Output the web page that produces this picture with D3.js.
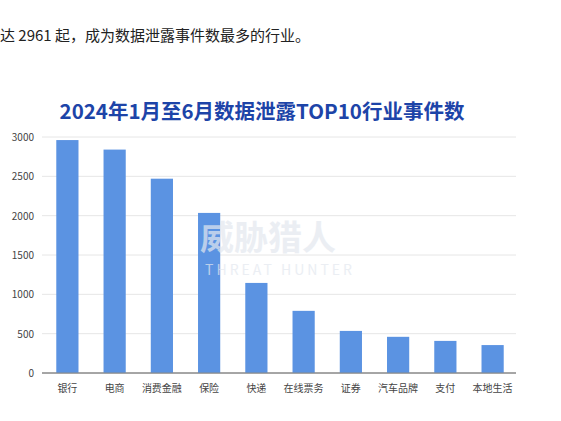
<!DOCTYPE html><html><head><meta charset="utf-8"><script src="https://cdn.jsdelivr.net/npm/d3@7"></script>
<style>body{margin:0;background:#fff}</style></head><body><svg id="c" width="561" height="421"></svg>
<script>
const categories=["银行","电商","消费金融","保险","快递","在线票务","证券","汽车品牌","支付","本地生活"];
const values=[2961,2840,2470,2035,1145,790,535,460,408,355];
const yTicks=[0,500,1000,1500,2000,2500,3000];
const svg=d3.select("#c");
const F="'Noto Sans CJK SC',sans-serif";
svg.append("text").attr("x",0).attr("y",41).attr("font-family",F).attr("font-size",15).attr("fill","#222").text("达 2961 起，成为数据泄露事件数最多的行业。");
svg.append("text").attr("x",262).attr("y",119).attr("text-anchor","middle").attr("font-family",F).attr("font-weight","bold").attr("font-size",20.5).attr("fill","#1d44a8").text("2024年1月至6月数据泄露TOP10行业事件数");
const x=d3.scaleBand().domain(categories).range([44,516]).paddingInner(0.53).paddingOuter(0.26);
const y=d3.scaleLinear().domain([0,3000]).range([373,137]);
const g=svg.append("g");
g.selectAll("line.g").data(yTicks).join("line").attr("x1",42).attr("x2",516).attr("y1",d=>y(d)).attr("y2",d=>y(d)).attr("stroke",d=>d===0?"#888":"#e6e6e6");
g.selectAll("text.t").data(yTicks).join("text").attr("x",34).attr("y",d=>y(d)+4).attr("text-anchor","end").attr("font-family",F).attr("font-size",10).attr("fill","#444").text(d=>d);
svg.append("text").attr("x",268).attr("y",250).attr("text-anchor","middle").attr("font-family",F).attr("font-weight","bold").attr("font-size",34).attr("fill","#e3e8ef").attr("opacity",0.7).text("威胁猎人");
svg.append("text").attr("x",280).attr("y",275).attr("text-anchor","middle").attr("font-family",F).attr("font-size",14).attr("letter-spacing",3).attr("fill","#e3e8ef").attr("opacity",0.7).text("THREAT HUNTER");
g.selectAll("rect").data(values).join("rect").attr("x",(d,i)=>x(categories[i])).attr("width",x.bandwidth()).attr("y",d=>y(d)).attr("height",d=>373-y(d)).attr("fill","#5b93e2");
g.append("line").attr("x1",42).attr("x2",516).attr("y1",373).attr("y2",373).attr("stroke","#888");
g.selectAll("text.c").data(categories).join("text").attr("x",d=>x(d)+x.bandwidth()/2).attr("y",392).attr("text-anchor","middle").attr("font-family",F).attr("font-size",10).attr("fill","#444").text(d=>d);
</script></body></html>
